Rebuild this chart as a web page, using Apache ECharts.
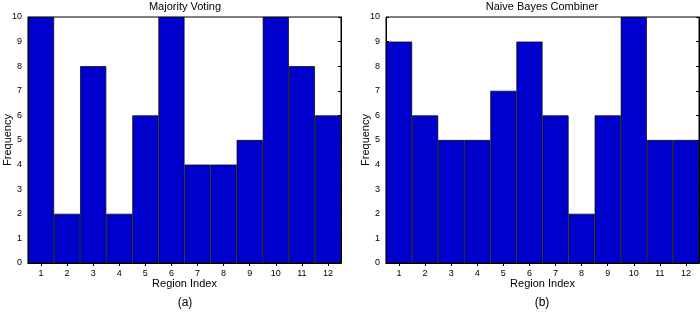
<!DOCTYPE html>
<html><head><meta charset="utf-8">
<script src="https://cdn.jsdelivr.net/npm/echarts@6/dist/echarts.min.js"></script>
<style>html,body{margin:0;padding:0;background:#fff}#c{width:700px;height:317px}</style>
</head><body><div id="c"></div>
<script>
const categories = ['1','2','3','4','5','6','7','8','9','10','11','12'];
const majorityVoting = [10,2,8,2,6,10,4,4,5,10,8,6];
const naiveBayes = [9,6,5,5,7,9,6,2,6,10,5,5];
const yTicks = [0,1,2,3,4,5,6,7,8,9,10];

const font = 'Liberation Sans, Arial, sans-serif';
const chart = echarts.init(document.getElementById('c'), null, {renderer:'canvas'});
const grids = [
  {left:28, right:359, top:17, bottom:54, show:true, borderColor:'#000', borderWidth:1, backgroundColor:'#fff'},
  {left:386, right:1, top:17, bottom:54, show:true, borderColor:'#000', borderWidth:1, backgroundColor:'#fff'}
];
function xAxes(gi){
  return [
    {type:'category', gridIndex:gi, data:categories, position:'bottom',
     boundaryGap:true,
     axisLine:{show:true, lineStyle:{color:'#000', width:1}},
     axisTick:{show:true, inside:true, alignWithLabel:true, length:3, lineStyle:{color:'#000'}},
     axisLabel:{color:'#000', fontSize:9, fontFamily:font, margin:6},
     name:'Region Index', nameLocation:'middle', nameGap:15, nameMoveOverlap:false,
     nameTextStyle:{color:'#000', fontSize:11, fontFamily:font}},
    {type:'category', gridIndex:gi, data:categories, position:'top',
     boundaryGap:true,
     axisLine:{show:true, lineStyle:{color:'#000', width:1}},
     axisTick:{show:true, inside:true, alignWithLabel:true, length:3, lineStyle:{color:'#000'}},
     axisLabel:{show:false}}
  ];
}
function yAxes(gi){
  return [
    {type:'value', gridIndex:gi, min:0, max:10, interval:1, position:'left',
     splitLine:{show:false},
     axisLine:{show:true, lineStyle:{color:'#000', width:1}},
     axisTick:{show:true, inside:true, length:3, lineStyle:{color:'#000'}},
     axisLabel:{color:'#000', fontSize:9, fontFamily:font, margin:6,
       formatter:(v)=> yTicks.includes(v) ? String(v) : ''},
     name:'Frequency', nameLocation:'middle', nameGap:15, nameRotate:90, nameMoveOverlap:false,
     nameTextStyle:{color:'#000', fontSize:11, fontFamily:font}},
    {type:'value', gridIndex:gi, min:0, max:10, interval:1, position:'right',
     splitLine:{show:false},
     axisLine:{show:true, lineStyle:{color:'#000', width:1}},
     axisTick:{show:true, inside:true, length:3, lineStyle:{color:'#000'}},
     axisLabel:{show:false}}
  ];
}
const barStyle = {color:'#0000CC', borderColor:'#000', borderWidth:0.7};
chart.setOption({
  animation:false,
  title:[
    {text:'Majority Voting', left:185, top:1, padding:0, textAlign:'center',
     textStyle:{fontSize:11, fontWeight:'normal', color:'#000', fontFamily:font}},
    {text:'Naive Bayes Combiner', left:542, top:1, padding:0, textAlign:'center',
     textStyle:{fontSize:11, fontWeight:'normal', color:'#000', fontFamily:font}},
    {text:'(a)', left:185, top:297, padding:0, textAlign:'center',
     textStyle:{fontSize:12, fontWeight:'normal', color:'#000', fontFamily:font}},
    {text:'(b)', left:542, top:297, padding:0, textAlign:'center',
     textStyle:{fontSize:12, fontWeight:'normal', color:'#000', fontFamily:font}}
  ],
  grid:grids,
  xAxis:[...xAxes(0), ...xAxes(1)],
  yAxis:[...yAxes(0), ...yAxes(1)],
  series:[
    {type:'bar', xAxisIndex:0, yAxisIndex:0, data:majorityVoting, barCategoryGap:'0%', itemStyle:barStyle},
    {type:'bar', xAxisIndex:2, yAxisIndex:2, data:naiveBayes, barCategoryGap:'0%', itemStyle:barStyle}
  ]
});
</script></body></html>
